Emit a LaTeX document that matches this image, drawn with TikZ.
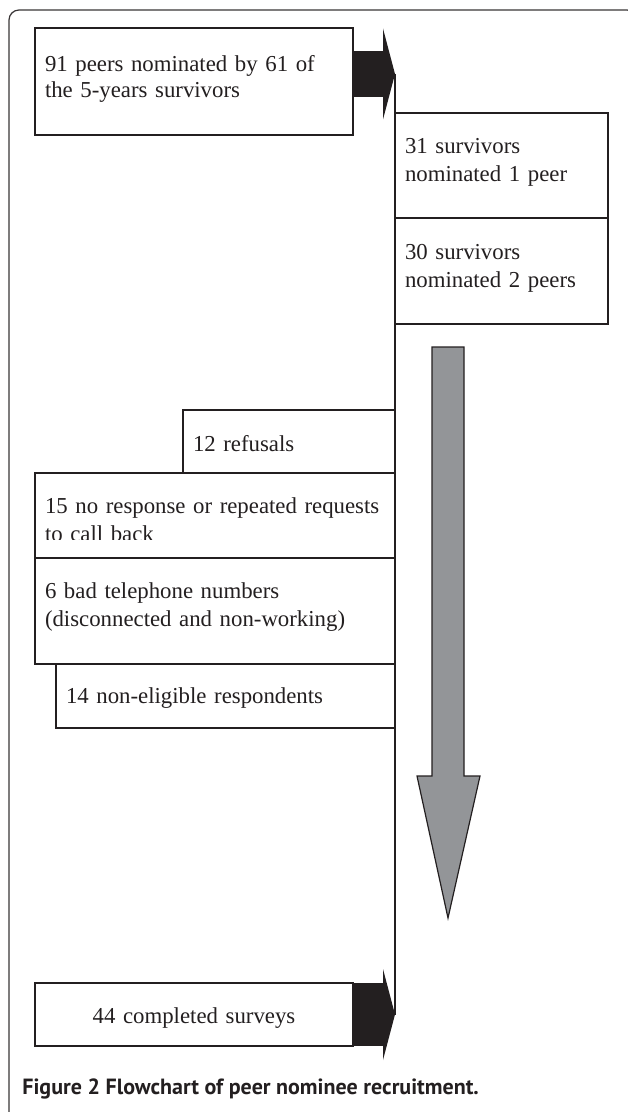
\documentclass[tikz,border=0pt]{standalone}
\usepackage{fontspec}
\setmainfont{Liberation Serif}
\newfontfamily\capsans{PT Sans}
\usepackage{xcolor}
\usepackage{tikz}
\usetikzlibrary{arrows.meta, positioning}
\definecolor{inkdark}{RGB}{35, 31, 32}
\definecolor{arrowgray}{RGB}{147, 149, 152}
\hyphenpenalty=10000
\exhyphenpenalty=10000

\begin{document}
\begin{tikzpicture}[
  x=0.5pt, y=-0.5pt,
  nbox/.style={rectangle, draw=inkdark, fill=white, line width=0.6pt, outer sep=0pt,
               inner xsep=5pt, inner ysep=0pt, align=left, text=inkdark,
               font=\fontsize{11.4}{14}\selectfont},
  blockarrow/.style={draw=inkdark, -{Triangle[length=6pt, width=45.5pt, line width=0pt]}},
  vline/.style={draw=inkdark, line width=0.6pt},
  grayarrow/.style={draw=inkdark, fill=arrowgray, line width=0.6pt, line join=miter},
  framebox/.style={draw=inkdark!90, line width=0.6pt, rounded corners=5pt},
  captxt/.style={font=\capsans\bfseries\fontsize{11}{13}\selectfont, text=inkdark, inner sep=0pt}
]

\useasboundingbox (0,0) rectangle (627,1112);
\draw[framebox] (9,1130) -- (9,10) -- (637,10) -- (637,1130);

\node[nbox, anchor=north west, text width=149pt, text height=22pt, text depth=31.5pt] (n1) at (35,28)
  {91 peers nominated by 61 of\\[-1pt]the 5-years survivors};
\node[nbox, anchor=north west, text width=96.5pt, text height=20.5pt, text depth=32pt] (s1) at (395,113)
  {31 survivors\\nominated 1 peer};
\node[nbox, below=0pt of s1, text width=96.5pt, text height=21pt, text depth=32pt] (s2)
  {30 survivors\\nominated 2 peers};

\node[nbox, anchor=north east, text width=96pt, text height=20.5pt, text depth=11pt] (r1) at (395,410)
  {12 refusals};
\begin{scope}
  \clip (0,0) rectangle (627,539);
  \node[nbox, draw=none, below left=0pt and 0pt of r1.south east, text width=170pt, text height=20pt, text depth=22.5pt] (r2)
    {15 no response or repeated requests\\to call back};
\end{scope}
\draw[vline] (r2.north west) rectangle (r2.south east);
\node[nbox, below left=0pt and 0pt of r2.south east, text width=170pt, text height=20pt, text depth=33pt] (r3)
  {6 bad telephone numbers\\(disconnected and non-working)};
\node[nbox, below left=0pt and 0pt of r3.south east, text width=159.5pt, text height=19.5pt, text depth=12.5pt] (r4)
  {14 non-eligible respondents};

\node[nbox, align=center, anchor=north west, text width=149pt, text height=20pt, text depth=11.5pt] (c1) at (35,983)
  {44 completed surveys};

\coordinate (tip1) at (395,74);
\coordinate (tip2) at (c1.east -| tip1);
\draw[vline] (tip1) -- (tip2);
\draw[blockarrow, line width=23pt] (n1.east |- tip1) -- (tip1);
\draw[blockarrow, line width=31.5pt] (c1.east) -- (tip2);

\draw[grayarrow] (432,347) -- (464,347) -- (464,776) -- (480,776) -- (448,918) -- (417,776) -- (432,776) -- cycle;

\node[captxt, anchor=base west] (cap) at (22,1094) {Figure 2 Flowchart of peer nominee recruitment.};

\end{tikzpicture}
\end{document}
